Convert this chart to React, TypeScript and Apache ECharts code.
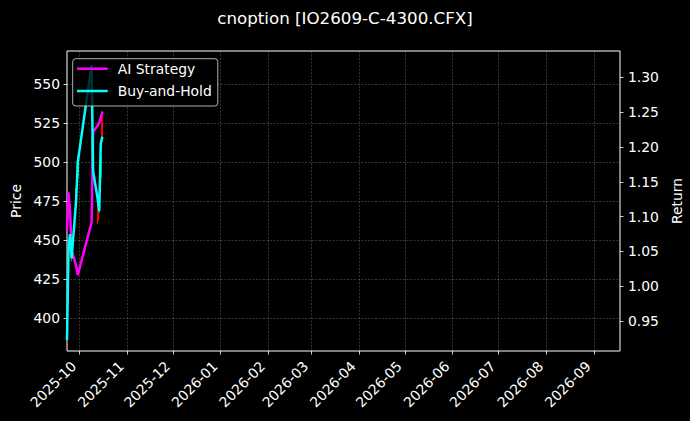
import React, { useEffect, useRef } from 'react';
import * as echarts from 'echarts';

const FONT = 'DejaVu Sans';

const dates = [
  '2025-09-23', '2025-09-24', '2025-09-25', '2025-09-26', '2025-09-29', '2025-09-30',
  '2025-10-09', '2025-10-10', '2025-10-13', '2025-10-14', '2025-10-15', '2025-10-16',
];
// candle prices (left axis)
const priceOpen = [460, 466, 469, 438, 472, 490, 500, 495, 475, 468, 490, 527];
const priceClose = [466, 471, 473, 443, 480, 500, 512, 508, 462, 471, 502, 516];
const priceLow = [458, 464, 467, 436, 470, 488, 496, 492, 460, 467, 485, 514];
const priceHigh = [469, 474, 475, 445, 483, 504, 516, 511, 476, 472, 505, 529];
// returns (right axis)
const aiStrategy = [1.080, 1.135, 1.106, 1.052, 1.029, 1.016, 1.092, 1.222, 1.231, 1.235, 1.242, 1.251];
const buyHold = [0.923, 1.055, 1.075, 1.040, 1.125, 1.178, 1.318, 1.165, 1.125, 1.108, 1.205, 1.215];

const monthTicks = [
  '2025-10-01', '2025-11-01', '2025-12-01', '2026-01-01', '2026-02-01', '2026-03-01',
  '2026-04-01', '2026-05-01', '2026-06-01', '2026-07-01', '2026-08-01', '2026-09-01',
];
const priceTicks = [400, 425, 450, 475, 500, 525, 550];
const returnTicks = [0.95, 1.0, 1.05, 1.1, 1.15, 1.2, 1.25, 1.3];
const xStart = '2025-09-23';
const xEnd = '2026-09-18';

const toTime = (s: string) => {
  const [y, m, d] = s.split('-').map(Number);
  return new Date(y, m - 1, d).getTime();
};
const fmtMonth = (v: number) => {
  const d = new Date(v);
  return `${d.getFullYear()}-${String(d.getMonth() + 1).padStart(2, '0')}`;
};

const tickLabel = { color: '#fff', fontSize: 13.9, fontFamily: FONT };
const tickStyle = { show: true, length: 3.5, lineStyle: { color: '#fff', width: 0.8 } };
const gridLine = { show: true, lineStyle: { color: 'rgba(255,255,255,0.35)', width: 0.6, type: [2, 1.5] } };

export default function App() {
  const chartRef = useRef<HTMLDivElement>(null);

  useEffect(() => {
    const chart = echarts.init(chartRef.current, null, { renderer: 'svg' });
    const monthTimes = monthTicks.map(toTime);

    chart.setOption({
      animation: false,
      backgroundColor: '#000',
      textStyle: { fontFamily: FONT },
      title: {
        text: 'cnoption [IO2609-C-4300.CFX]',
        left: 'center',
        top: 4,
        textStyle: { color: '#fff', fontSize: 16.7, fontWeight: 'normal', fontFamily: FONT },
      },
      legend: {
        data: ['AI Strategy', 'Buy-and-Hold'],
        orient: 'vertical',
        left: 72.7,
        top: 58.7,
        padding: [2, 6, 7, 4.3],
        itemWidth: 30.7,
        itemHeight: 2.5,
        itemGap: 6.3,
        icon: 'rect',
        backgroundColor: 'rgba(0,0,0,0.8)',
        borderColor: 'rgba(220,220,220,0.8)',
        borderWidth: 1,
        borderRadius: 3,
        textStyle: { color: '#fff', fontSize: 13.9, fontFamily: FONT, lineHeight: 16, padding: [0, 0, 0, 5] },
      },
      grid: {
        left: 67, right: 70, top: 51, bottom: 70,
        outerBoundsMode: 'none',
        containLabel: false,
        show: true, borderColor: '#fff', borderWidth: 1, backgroundColor: 'transparent',
      },
      xAxis: {
        type: 'value',
        min: toTime(xStart),
        max: toTime(xEnd),
        axisLine: { show: false },
        axisTick: { ...tickStyle, customValues: monthTimes },
        axisLabel: { ...tickLabel, customValues: monthTimes, formatter: fmtMonth, rotate: 45, margin: 7, padding: [0, 8, 0, 0] },
        splitLine: gridLine,
      },
      yAxis: [
        {
          type: 'value',
          name: 'Price',
          nameLocation: 'middle',
          nameGap: 44,
          nameTextStyle: { color: '#fff', fontSize: 13.9, fontFamily: FONT },
          min: 378.7,
          max: 571,
          axisLine: { show: false },
          axisTick: { ...tickStyle, customValues: priceTicks },
          axisLabel: { ...tickLabel, customValues: priceTicks, margin: 7 },
          splitLine: gridLine,
        },
        {
          type: 'value',
          name: 'Return',
          nameLocation: 'middle',
          nameGap: 45,
          nameTextStyle: { color: '#fff', fontSize: 13.9, fontFamily: FONT },
          position: 'right',
          min: 0.907,
          max: 1.338,
          axisLine: { show: false },
          axisTick: { ...tickStyle, customValues: returnTicks },
          axisLabel: { ...tickLabel, customValues: returnTicks, margin: 8, formatter: (v: number) => v.toFixed(2) },
          splitLine: { show: false },
        },
      ],
      series: [
        {
          name: 'Price',
          type: 'candlestick',
          yAxisIndex: 0,
          barWidth: 1.5,
          encode: { x: 0, y: [1, 2, 3, 4] },
          data: dates.map((d, i) => [toTime(d), priceOpen[i], priceClose[i], priceLow[i], priceHigh[i]]),
          itemStyle: {
            color: '#00a000', color0: '#ff0000',
            borderColor: '#00a000', borderColor0: '#ff0000', borderWidth: 1,
          },
        },
        {
          name: 'AI Strategy',
          type: 'line',
          yAxisIndex: 1,
          symbol: 'none',
          data: dates.map((d, i) => [toTime(d), aiStrategy[i]]),
          itemStyle: { color: '#ff00ff' },
          lineStyle: { color: '#ff00ff', width: 2.5 },
        },
        {
          name: 'Buy-and-Hold',
          type: 'line',
          yAxisIndex: 1,
          symbol: 'none',
          data: dates.map((d, i) => [toTime(d), buyHold[i]]),
          itemStyle: { color: '#00ffff' },
          lineStyle: { color: '#00ffff', width: 2.5 },
        },
      ],
    });

    return () => {
      chart.dispose();
    };
  }, []);

  return (
    <div
      ref={chartRef}
      style={{ position: 'absolute', left: 0, top: 0, width: '690px', height: '421px' }}
    ></div>
  );
}
